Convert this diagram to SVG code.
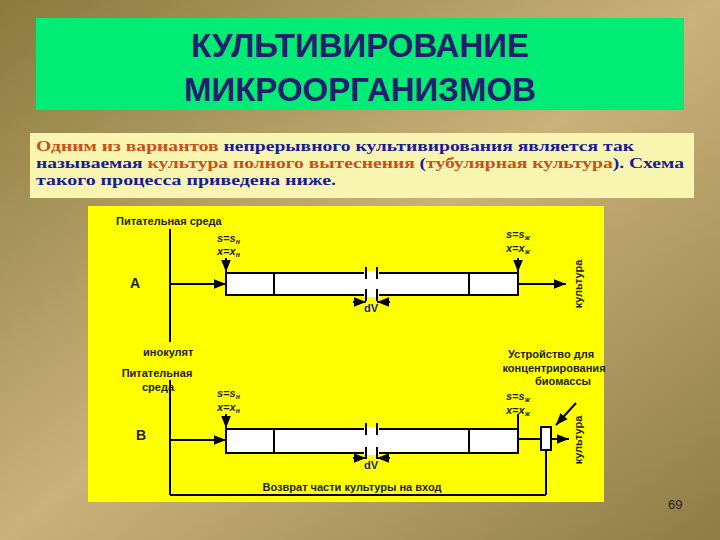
<svg xmlns="http://www.w3.org/2000/svg" width="720" height="540" viewBox="0 0 720 540">
<defs>
<linearGradient id="bg" x1="0" y1="0" x2="1" y2="1">
<stop offset="0" stop-color="#8a7a3e"/><stop offset="0.5" stop-color="#c9b27a"/><stop offset="1" stop-color="#8f7c45"/>
</linearGradient>
<marker id="ar" viewBox="0 0 10 10" refX="10" refY="5" markerWidth="6" markerHeight="6" orient="auto"><path d="M0,1 L10,5 L0,9 z" fill="#000"/></marker>
</defs>
<style>
.l{stroke:#000;stroke-width:2;fill:none}
.t{fill:#fff;stroke:#000;stroke-width:2}
.s{font-family:"Liberation Sans",Arial,sans-serif;font-size:11px;font-weight:bold;fill:#222}
.b{font-family:"Liberation Serif","Times New Roman",serif;font-size:15px;font-weight:bold}
.r{fill:#c8501a}.n{fill:#1a1a9a}
</style>
<rect width="720" height="540" fill="url(#bg)"/>
<g id="title"><rect x="36" y="18" width="648" height="92" fill="#00ec74"/>
<text x="360" y="57" text-anchor="middle" font-family="Liberation Sans,Arial,sans-serif" font-size="33" font-weight="bold" fill="#20206e">КУЛЬТИВИРОВАНИЕ</text>
<text x="360" y="101" text-anchor="middle" font-family="Liberation Sans,Arial,sans-serif" font-size="33" font-weight="bold" fill="#20206e">МИКРООРГАНИЗМОВ</text></g>
<g id="intro"><rect x="30" y="133" width="664" height="65" fill="#f8f5b0"/>
<text class="b" x="36" y="151" textLength="598" lengthAdjust="spacingAndGlyphs"><tspan class="r">Одним из вариантов </tspan><tspan class="n">непрерывного культивирования является так</tspan></text>
<text class="b" x="36" y="168" textLength="648" lengthAdjust="spacingAndGlyphs"><tspan class="n">называемая </tspan><tspan class="r">культура полного вытеснения </tspan><tspan class="n">(</tspan><tspan class="r">тубулярная культура</tspan><tspan class="n">). Схема</tspan></text>
<text class="b n" x="36" y="185" textLength="300" lengthAdjust="spacingAndGlyphs">такого процесса приведена ниже.</text></g>
<rect x="88" y="206" width="516" height="296" fill="#ffff00"/>
<g id="connectors">
<line class="l" x1="170" y1="229" x2="170" y2="342"/>
<line class="l" x1="170" y1="284" x2="226" y2="284" marker-end="url(#ar)"/>
<line class="l" x1="518" y1="284" x2="566" y2="284" marker-end="url(#ar)"/>
<line class="l" x1="226" y1="258" x2="226" y2="272" marker-end="url(#ar)"/>
<line class="l" x1="518" y1="258" x2="518" y2="272" marker-end="url(#ar)"/>
<line class="l" x1="353" y1="302" x2="366" y2="302" marker-end="url(#ar)"/>
<line class="l" x1="390" y1="302" x2="377" y2="302" marker-end="url(#ar)"/>
<line class="l" x1="170" y1="380" x2="170" y2="495"/>
<line class="l" x1="170" y1="440" x2="226" y2="440" marker-end="url(#ar)"/>
<line class="l" x1="226" y1="414" x2="226" y2="428" marker-end="url(#ar)"/>
<line class="l" x1="518" y1="414" x2="518" y2="428"/>
<line class="l" x1="518" y1="439" x2="541" y2="439"/>
<line class="l" x1="551" y1="439" x2="569" y2="439" marker-end="url(#ar)"/>
<line class="l" x1="546" y1="450" x2="546" y2="495"/>
<line class="l" x1="170" y1="495" x2="546" y2="495"/>
<line class="l" x1="576" y1="403" x2="556" y2="425" marker-end="url(#ar)"/>
<line class="l" x1="353" y1="458" x2="366" y2="458" marker-end="url(#ar)"/>
<line class="l" x1="390" y1="458" x2="377" y2="458" marker-end="url(#ar)"/>
</g>
<g id="tubeA"><rect class="t" x="226" y="273" width="292" height="22"/>
<line class="l" x1="274" y1="273" x2="274" y2="295"/><line class="l" x1="469" y1="273" x2="469" y2="295"/>
<rect x="364" y="271" width="15" height="3" fill="#fff"/><rect x="364" y="294" width="15" height="3" fill="#fff"/>
<path class="l" d="M366,267V279M366,289V301M377,267V279M377,289V301"/></g>
<g id="tubeB"><rect class="t" x="226" y="429" width="292" height="24"/>
<line class="l" x1="274" y1="429" x2="274" y2="453"/><line class="l" x1="469" y1="429" x2="469" y2="453"/>
<rect x="364" y="427" width="15" height="3" fill="#fff"/><rect x="364" y="452" width="15" height="3" fill="#fff"/>
<path class="l" d="M366,423V435M366,447V459M377,423V435M377,447V459"/></g>
<g id="concentrator"><rect class="t" x="541" y="427" width="10" height="23"/></g>
<g id="labels" class="s">
<text x="116" y="225">Питательная среда</text>
<text x="130" y="288" font-size="14">А</text>
<text x="217" y="242" font-style="italic">s=s<tspan font-size="7" dy="2">н</tspan></text>
<text x="217" y="257" font-style="italic" dy="-2">x=x<tspan font-size="7" dy="2">н</tspan></text>
<text x="506" y="238" font-style="italic">s=s<tspan font-size="7" dy="2">ж</tspan></text>
<text x="506" y="252" font-style="italic">x=x<tspan font-size="7" dy="2">ж</tspan></text>
<text transform="translate(582,284) rotate(-90)" text-anchor="middle">культура</text>
<text x="371" y="312" text-anchor="middle" fill="#1a1a9a">dV</text>
<text x="143" y="356">инокулят</text>
<text x="157" y="377" text-anchor="middle">Питательная</text>
<text x="158" y="391" text-anchor="middle">среда</text>
<text x="217" y="397" font-style="italic">s=s<tspan font-size="7" dy="2">н</tspan></text>
<text x="217" y="411" font-style="italic">x=x<tspan font-size="7" dy="2">н</tspan></text>
<text x="506" y="400" font-style="italic">s=s<tspan font-size="7" dy="2">ж</tspan></text>
<text x="506" y="414" font-style="italic">x=x<tspan font-size="7" dy="2">ж</tspan></text>
<text x="551" y="358" text-anchor="middle">Устройство для</text>
<text x="554" y="372" text-anchor="middle">концентрирования</text>
<text x="563" y="385" text-anchor="middle">биомассы</text>
<text x="136" y="440" font-size="14">В</text>
<text transform="translate(582,440) rotate(-90)" text-anchor="middle">культура</text>
<text x="371" y="469" text-anchor="middle" fill="#1a1a9a">dV</text>
<text x="352" y="491" text-anchor="middle">Возврат части культуры на вход</text>
</g>
<text x="668" y="509" font-family="Liberation Sans,Arial,sans-serif" font-size="13" fill="#222">69</text>
</svg>
